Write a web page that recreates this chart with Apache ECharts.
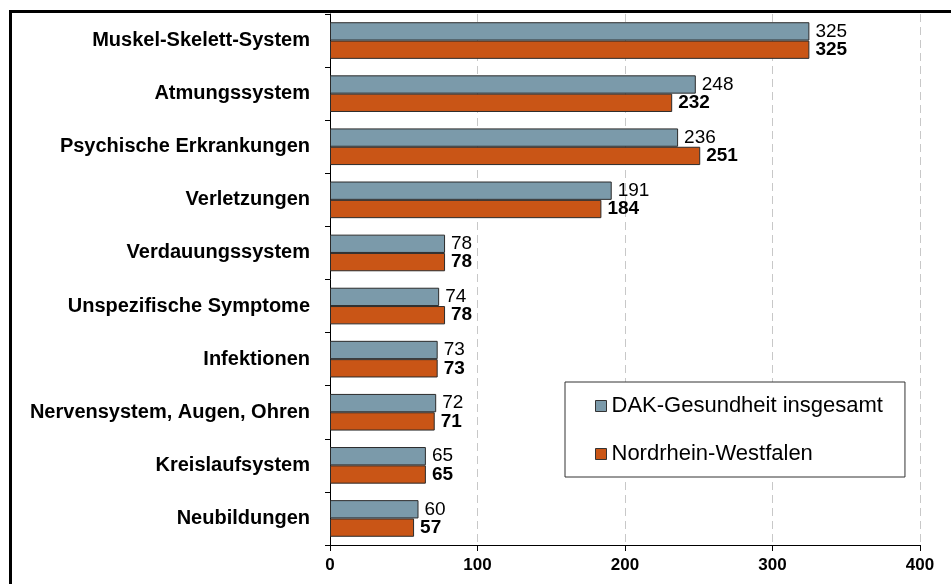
<!DOCTYPE html>
<html>
<head>
<meta charset="utf-8">
<script src="https://cdn.jsdelivr.net/npm/echarts@6/dist/echarts.min.js"></script>
<style>
html,body{margin:0;padding:0;background:#fff;}
#chart{width:951px;height:584px;}
</style>
</head>
<body>
<div id="chart"></div>
<script>
var categories = ['Muskel-Skelett-System','Atmungssystem','Psychische Erkrankungen','Verletzungen','Verdauungssystem','Unspezifische Symptome','Infektionen','Nervensystem, Augen, Ohren','Kreislaufsystem','Neubildungen'];
var dakValues = [325, 248, 236, 191, 78, 74, 73, 72, 65, 60];
var nrwValues = [325, 232, 251, 184, 78, 78, 73, 71, 65, 57];
var seriesNames = ['DAK-Gesundheit insgesamt', 'Nordrhein-Westfalen'];
var xTicks = [0, 100, 200, 300, 400];

var FONT = "'Liberation Sans', Arial, sans-serif";
var chart = echarts.init(document.getElementById('chart'), null, {renderer:'canvas'});
chart.setOption({
  animation: false,
  backgroundColor: '#fff',
  textStyle: {fontFamily: FONT},
  grid: {left: 330, right: 31, top: 14, bottom: 39, containLabel: false},
  legend: {
    left: 565, top: 382, orient: 'vertical',
    padding: [13, 22, 12, 30],
    itemGap: 26, itemWidth: 11, itemHeight: 11,
    backgroundColor: '#fff', borderColor: '#333', borderWidth: 1,
    textStyle: {fontFamily: FONT, fontSize: 22, color: '#000'},
    data: [
      {name: seriesNames[0], icon: 'rect', itemStyle: {borderColor: '#333', borderWidth: 1}},
      {name: seriesNames[1], icon: 'rect', itemStyle: {borderColor: '#333', borderWidth: 1}}
    ],
    z: 10
  },
  xAxis: {
    type: 'value', min: xTicks[0], max: xTicks[xTicks.length-1], interval: 100,
    axisLine: {show: true, lineStyle: {color: '#000', width: 1}},
    axisTick: {show: true, length: 6, lineStyle: {color: '#000'}},
    axisLabel: {fontFamily: FONT, fontSize: 17, fontWeight: 'bold', color: '#000', margin: 12},
    splitLine: {show: true, lineStyle: {color: '#c8c8c8', type: [8, 5], width: 1}}
  },
  yAxis: {
    type: 'category', data: categories, inverse: true,
    axisLine: {show: true, lineStyle: {color: '#000', width: 1}},
    axisTick: {show: true, length: 5, lineStyle: {color: '#000'}},
    axisLabel: {fontFamily: FONT, fontSize: 20, fontWeight: 'bold', color: '#000', margin: 20},
    splitLine: {show: false}
  },
  series: [
    {
      name: seriesNames[0], type: 'bar', data: dakValues,
      barGap: '0%', barCategoryGap: '31%',
      itemStyle: {color: '#7b9aaa', borderColor: '#2b2b2b', borderWidth: 1},
      label: {show: true, position: 'right', distance: 6, fontFamily: FONT, fontSize: 19, color: '#000'}
    },
    {
      name: seriesNames[1], type: 'bar', data: nrwValues,
      barGap: '0%', barCategoryGap: '31%',
      itemStyle: {color: '#c95516', borderColor: '#2b2b2b', borderWidth: 1},
      label: {show: true, position: 'right', distance: 6, fontFamily: FONT, fontSize: 19, fontWeight: 'bold', color: '#000'}
    }
  ],
  graphic: [{
    type: 'rect', left: 8, top: 9, silent: true,
    shape: {width: 950, height: 620},
    style: {fill: 'none', stroke: '#000', lineWidth: 3},
    z: 100
  }]
});
</script>
</body>
</html>
